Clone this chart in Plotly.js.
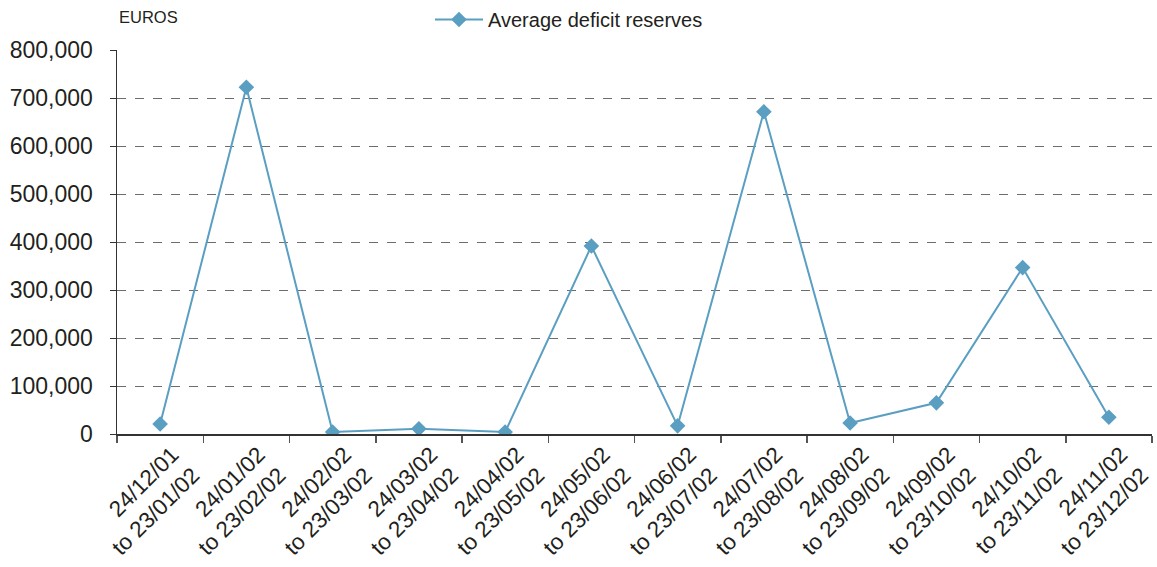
<!DOCTYPE html>
<html>
<head>
<meta charset="utf-8">
<script src="https://cdn.plot.ly/plotly-3.0.1.min.js"></script>
<style>
  html, body { margin: 0; padding: 0; background: #fff; }
  #chart { width: 1157px; height: 567px; }
</style>
</head>
<body>
<div id="chart"></div>
<script>
// Maintenance periods and the average deficit reserves (EUR) for each
const periodStarts = ["24/12/01", "24/01/02", "24/02/02", "24/03/02", "24/04/02", "24/05/02",
                      "24/06/02", "24/07/02", "24/08/02", "24/09/02", "24/10/02", "24/11/02"];
const periodEnds   = ["23/01/02", "23/02/02", "23/03/02", "23/04/02", "23/05/02", "23/06/02",
                      "23/07/02", "23/08/02", "23/09/02", "23/10/02", "23/11/02", "23/12/02"];
const deficitReserves = [21000, 723000, 4000, 11000, 4000, 392000,
                         17000, 672000, 23000, 65000, 347000, 35000];

const periodLabels = periodStarts.map((s, i) => s + "<br>to " + periodEnds[i]);
const lineColor = "#5a9fc2";
const font = "'Liberation Sans', Arial, sans-serif";

const trace = {
  type: "scatter",
  mode: "lines+markers",
  name: "Average deficit reserves",
  x: periodLabels,
  y: deficitReserves,
  line: { color: lineColor, width: 2 },
  marker: { symbol: "diamond", size: 12, color: lineColor }
};

const layout = {
  width: 1157,
  height: 567,
  margin: { l: 117, r: 5, t: 50, b: 133 },
  paper_bgcolor: "#fff",
  plot_bgcolor: "#fff",
  font: { family: font, color: "#231f20" },
  showlegend: true,
  legend: {
    orientation: "h",
    xref: "container", yref: "container",
    x: 430 / 1157, y: 1, xanchor: "left", yanchor: "top",
    itemwidth: 48,
    font: { size: 20, family: font, color: "#231f20" },
    bgcolor: "rgba(0,0,0,0)"
  },
  xaxis: {
    type: "category",
    range: [-0.5, 11.5],
    tickson: "boundaries",
    ticks: "outside",
    ticklen: 7,
    tickwidth: 1.5,
    tickcolor: "#555",
    tickangle: -45,
    ticklabelshift: 12,
    ticklabelstandoff: -3,
    tickfont: { size: 22.5, family: font, color: "#231f20" },
    showline: true,
    linecolor: "#333",
    linewidth: 1.5,
    showgrid: false,
    zeroline: false,
    fixedrange: true
  },
  yaxis: {
    range: [0, 800800],
    dtick: 100000,
    tickformat: ",d",
    ticks: "outside",
    ticklen: 6,
    tickcolor: "#333",
    ticklabelstandoff: 12,
    tickfont: { size: 23, family: font, color: "#231f20" },
    showline: true,
    linecolor: "#333",
    linewidth: 1.5,
    showgrid: true,
    gridcolor: "#6d6d6d",
    griddash: "dash",
    gridwidth: 1,
    zeroline: false,
    fixedrange: true
  },
  annotations: [{
    text: "EUROS",
    xref: "paper", yref: "paper",
    x: 0, y: 1 + (50 - 17) / 384,
    xanchor: "left", yanchor: "middle",
    showarrow: false,
    font: { size: 16.5, family: font, color: "#231f20" }
  }]
};

Plotly.newPlot("chart", [trace], layout, { displayModeBar: false, staticPlot: true });
</script>
</body>
</html>
